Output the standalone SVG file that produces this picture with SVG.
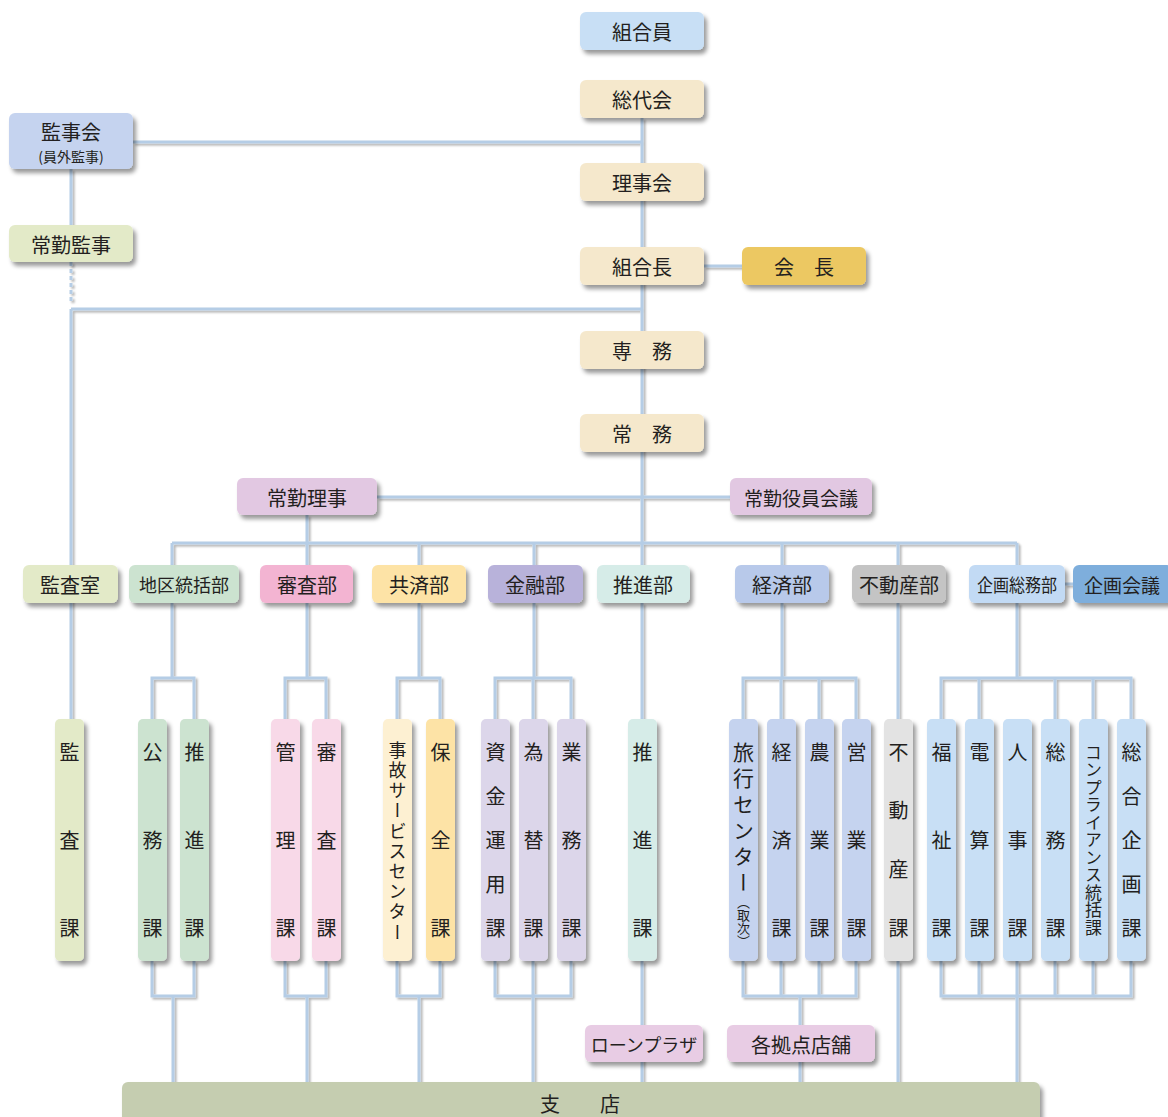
<svg xmlns="http://www.w3.org/2000/svg" width="1168" height="1117" viewBox="0 0 1168 1117">
<defs>
<filter id="sh" x="-20%" y="-20%" width="150%" height="150%">
<feDropShadow dx="3" dy="4" stdDeviation="2" flood-color="#000" flood-opacity="0.4"/>
</filter>
<filter id="lsh" x="-20%" y="-20%" width="150%" height="150%">
<feDropShadow dx="2" dy="2" stdDeviation="1.2" flood-color="#000" flood-opacity="0.3"/>
</filter>
<style>
text{font-family:"Noto Sans CJK JP","Noto Sans",sans-serif;fill:#231f20;}
.h{font-size:20px;text-anchor:middle;dominant-baseline:central;}
.v{font-size:20px;writing-mode:vertical-rl;text-anchor:start;}
.n rect{filter:url(#sh);}
.ln{stroke:#b5cde6;stroke-width:3;fill:none;}
.c-mem{fill:#c8dff5}.c-top{fill:#f5e8cc}.c-kai{fill:#ecc862}.c-kan{fill:#c5d3ef}
.c-jk{fill:#e3eac8}.c-jr{fill:#e2c8e2}.c-chi{fill:#cce3d0}.c-shin{fill:#f3b4d2}
.c-shin2{fill:#f8d9e8}.c-kyo{fill:#fde3a6}.c-kyo2{fill:#fdf0d2}.c-kin{fill:#b8b2da}
.c-kin2{fill:#dcd6ea}.c-sui{fill:#d6ece8}.c-kei{fill:#b8c9ea}.c-kei2{fill:#c5d3ef}
.c-fu{fill:#c4c4c4}.c-fu2{fill:#e3e3e3}.c-ki{fill:#c2daf4}.c-ki2{fill:#c8dff5}
.c-kk{fill:#7eaedc}.c-br{fill:#e8cce4}.c-shi{fill:#c5cdb0}
</style>
</defs>
<rect width="1168" height="1117" fill="#fff"/>

<g id="connectors" filter="url(#lsh)">
<path class="ln" d="M642 118V565"/>
<path class="ln" d="M133 142H642"/>
<path class="ln" d="M704 266H742"/>
<path class="ln" d="M71 169V225"/>
<path class="ln" d="M71 262V303" stroke-dasharray="4 3"/>
<path class="ln" d="M71 309H642M71 309V719"/>
<path class="ln" d="M377 497H730"/>
<path class="ln" d="M307 515V543"/>
<path class="ln" d="M172 543H1017"/>
<path class="ln" d="M172 543V565M307 543V565M419 543V565M534 543V565M782 543V565M898 543V565M1017 543V565"/>
<path class="ln" d="M1065 584H1073"/>
<path class="ln" d="M172 603V678M152 719V678H194V719"/>
<path class="ln" d="M307 603V678M285 719V678H326V719"/>
<path class="ln" d="M419 603V678M397 719V678H440V719"/>
<path class="ln" d="M534 603V678M495 719V678H571V719M533 678V719"/>
<path class="ln" d="M642 603V719"/>
<path class="ln" d="M782 603V678M743 719V678H856V719M781 678V719M819 678V719"/>
<path class="ln" d="M898 603V719"/>
<path class="ln" d="M1017 603V678M941 719V678H1131V719M979 678V719M1055 678V719M1093 678V719"/>
<path class="ln" d="M152 961V996H194V961M173 996V1082"/>
<path class="ln" d="M285 961V996H326V961M307 996V1082"/>
<path class="ln" d="M397 961V996H440V961M419 996V1082"/>
<path class="ln" d="M495 961V996H571V961M533 961V1082"/>
<path class="ln" d="M642 961V1082"/>
<path class="ln" d="M743 961V996H856V961M781 961V996M819 961V996M800 996V1082"/>
<path class="ln" d="M898 961V1082"/>
<path class="ln" d="M941 961V996H1131V961M979 961V996M1055 961V996M1093 961V996M1017 961V1082"/>
</g>

<g id="n-kumiaiin" class="n"><rect class="c-mem" x="580" y="12" width="124" height="38" rx="6"/><text class="h" x="642" y="31">組合員</text></g>
<g id="n-soudaikai" class="n"><rect class="c-top" x="580" y="80" width="124" height="38" rx="6"/><text class="h" x="642" y="99">総代会</text></g>
<g id="n-rijikai" class="n"><rect class="c-top" x="580" y="163" width="124" height="38" rx="6"/><text class="h" x="642" y="182">理事会</text></g>
<g id="n-kumiaicho" class="n"><rect class="c-top" x="580" y="247" width="124" height="38" rx="6"/><text class="h" x="642" y="266">組合長</text></g>
<g id="n-kaicho" class="n"><rect class="c-kai" x="742" y="247" width="124" height="38" rx="6"/><text class="h" x="804" y="266">会　長</text></g>
<g id="n-senmu" class="n"><rect class="c-top" x="580" y="331" width="124" height="38" rx="6"/><text class="h" x="642" y="350">専　務</text></g>
<g id="n-jomu" class="n"><rect class="c-top" x="580" y="414" width="124" height="38" rx="6"/><text class="h" x="642" y="433">常　務</text></g>
<g id="n-kanjikai" class="n"><rect class="c-kan" x="9" y="113" width="124" height="56" rx="6"/><text class="h" x="71" y="131">監事会</text><text class="h" x="71" y="156" style="font-size:14px">(員外監事)</text></g>
<g id="n-jokinkanji" class="n"><rect class="c-jk" x="9" y="225" width="124" height="37" rx="6"/><text class="h" x="71" y="244">常勤監事</text></g>
<g id="n-jokinriji" class="n"><rect class="c-jr" x="237" y="478" width="140" height="37" rx="6"/><text class="h" x="307" y="497">常勤理事</text></g>
<g id="n-jokinyakuin" class="n"><rect class="c-jr" x="730" y="478" width="142" height="37" rx="6"/><text class="h" x="801" y="497" style="font-size:19px">常勤役員会議</text></g>

<g id="n-kansashitsu" class="n"><rect class="c-jk" x="23" y="565" width="95" height="38" rx="6"/><text class="h" x="70" y="584">監査室</text></g>
<g id="n-chiku" class="n"><rect class="c-chi" x="129" y="565" width="110" height="38" rx="6"/><text class="h" x="184" y="584" style="font-size:18px">地区統括部</text></g>
<g id="n-shinsa" class="n"><rect class="c-shin" x="260" y="565" width="93" height="38" rx="6"/><text class="h" x="307" y="584">審査部</text></g>
<g id="n-kyosai" class="n"><rect class="c-kyo" x="372" y="565" width="94" height="38" rx="6"/><text class="h" x="419" y="584">共済部</text></g>
<g id="n-kinyu" class="n"><rect class="c-kin" x="488" y="565" width="95" height="38" rx="6"/><text class="h" x="535" y="584">金融部</text></g>
<g id="n-suishin" class="n"><rect class="c-sui" x="597" y="565" width="93" height="38" rx="6"/><text class="h" x="643" y="584">推進部</text></g>
<g id="n-keizai" class="n"><rect class="c-kei" x="735" y="565" width="94" height="38" rx="6"/><text class="h" x="782" y="584">経済部</text></g>
<g id="n-fudosan" class="n"><rect class="c-fu" x="852" y="565" width="94" height="38" rx="6"/><text class="h" x="899" y="584">不動産部</text></g>
<g id="n-kikakusomu" class="n"><rect class="c-ki" x="969" y="565" width="96" height="38" rx="6"/><text class="h" x="1017" y="584" style="font-size:18px" textLength="80" lengthAdjust="spacingAndGlyphs">企画総務部</text></g>
<g id="n-kikakukaigi" class="n"><rect class="c-kk" x="1073" y="565" width="100" height="38" rx="6"/><text class="h" x="1122" y="584" style="font-size:19px">企画会議</text></g>

<g id="n-kansaka" class="n"><rect class="c-jk" x="55" y="719" width="29" height="242" rx="5"/><text class="v" x="69.5" y="742" style="letter-spacing:68px">監査課</text></g>
<g id="n-komuka" class="n"><rect class="c-chi" x="138" y="719" width="29" height="242" rx="5"/><text class="v" x="152.5" y="742" style="letter-spacing:68px">公務課</text></g>
<g id="n-suishinka1" class="n"><rect class="c-chi" x="180" y="719" width="29" height="242" rx="5"/><text class="v" x="194.5" y="742" style="letter-spacing:68px">推進課</text></g>
<g id="n-kanrika" class="n"><rect class="c-shin2" x="271" y="719" width="29" height="242" rx="5"/><text class="v" x="285.5" y="742" style="letter-spacing:68px">管理課</text></g>
<g id="n-shinsaka" class="n"><rect class="c-shin2" x="312" y="719" width="29" height="242" rx="5"/><text class="v" x="326.5" y="742" style="letter-spacing:68px">審査課</text></g>
<g id="n-jiko" class="n"><rect class="c-kyo2" x="383" y="719" width="29" height="242" rx="5"/><text class="v" x="397.5" y="741" style="font-size:18px;letter-spacing:2.2px">事故サービスセンター</text></g>
<g id="n-hozenka" class="n"><rect class="c-kyo" x="426" y="719" width="29" height="242" rx="5"/><text class="v" x="440.5" y="742" style="letter-spacing:68px">保全課</text></g>
<g id="n-shikinka" class="n"><rect class="c-kin2" x="481" y="719" width="29" height="242" rx="5"/><text class="v" x="495.5" y="742" style="letter-spacing:24px">資金運用課</text></g>
<g id="n-kawaseka" class="n"><rect class="c-kin2" x="519" y="719" width="29" height="242" rx="5"/><text class="v" x="533.5" y="742" style="letter-spacing:68px">為替課</text></g>
<g id="n-gyomuka" class="n"><rect class="c-kin2" x="557" y="719" width="29" height="242" rx="5"/><text class="v" x="571.5" y="742" style="letter-spacing:68px">業務課</text></g>
<g id="n-suishinka2" class="n"><rect class="c-sui" x="628" y="719" width="29" height="242" rx="5"/><text class="v" x="642.5" y="742" style="letter-spacing:68px">推進課</text></g>
<g id="n-ryoko" class="n"><rect class="c-kei2" x="729" y="719" width="29" height="242" rx="5"/><text class="v" x="743.5" y="742" style="font-size:21px;letter-spacing:5px">旅行センター</text><text class="v" x="743.5" y="896" style="font-size:13px">（取次）</text></g>
<g id="n-keizaika" class="n"><rect class="c-kei2" x="767" y="719" width="29" height="242" rx="5"/><text class="v" x="781.5" y="742" style="letter-spacing:68px">経済課</text></g>
<g id="n-nogyoka" class="n"><rect class="c-kei2" x="805" y="719" width="29" height="242" rx="5"/><text class="v" x="819.5" y="742" style="letter-spacing:68px">農業課</text></g>
<g id="n-eigyoka" class="n"><rect class="c-kei2" x="842" y="719" width="29" height="242" rx="5"/><text class="v" x="856.5" y="742" style="letter-spacing:68px">営業課</text></g>
<g id="n-fudosanka" class="n"><rect class="c-fu2" x="884" y="719" width="29" height="242" rx="5"/><text class="v" x="898.5" y="742" style="letter-spacing:38.7px">不動産課</text></g>
<g id="n-fukushika" class="n"><rect class="c-ki2" x="927" y="719" width="29" height="242" rx="5"/><text class="v" x="941.5" y="742" style="letter-spacing:68px">福祉課</text></g>
<g id="n-densanka" class="n"><rect class="c-ki2" x="965" y="719" width="29" height="242" rx="5"/><text class="v" x="979.5" y="742" style="letter-spacing:68px">電算課</text></g>
<g id="n-jinjika" class="n"><rect class="c-ki2" x="1003" y="719" width="29" height="242" rx="5"/><text class="v" x="1017.5" y="742" style="letter-spacing:68px">人事課</text></g>
<g id="n-somuka" class="n"><rect class="c-ki2" x="1041" y="719" width="29" height="242" rx="5"/><text class="v" x="1055.5" y="742" style="letter-spacing:68px">総務課</text></g>
<g id="n-compliance" class="n"><rect class="c-ki2" x="1079" y="719" width="29" height="242" rx="5"/><text class="v" x="1093.5" y="744" style="font-size:17px;letter-spacing:0.5px">コンプライアンス統括課</text></g>
<g id="n-sogokikakuka" class="n"><rect class="c-ki2" x="1117" y="719" width="29" height="242" rx="5"/><text class="v" x="1131.5" y="742" style="letter-spacing:24px">総合企画課</text></g>

<g id="n-loanplaza" class="n"><rect class="c-br" x="585" y="1025" width="118" height="37" rx="6"/><text class="h" x="644" y="1044" style="font-size:18px">ローンプラザ</text></g>
<g id="n-kakukyoten" class="n"><rect class="c-br" x="727" y="1025" width="148" height="37" rx="6"/><text class="h" x="801" y="1044">各拠点店舗</text></g>
<g id="n-shiten" class="n"><rect class="c-shi" x="122" y="1082" width="918" height="60" rx="6"/><text class="h" x="580" y="1103">支　　店</text></g>
</svg>
